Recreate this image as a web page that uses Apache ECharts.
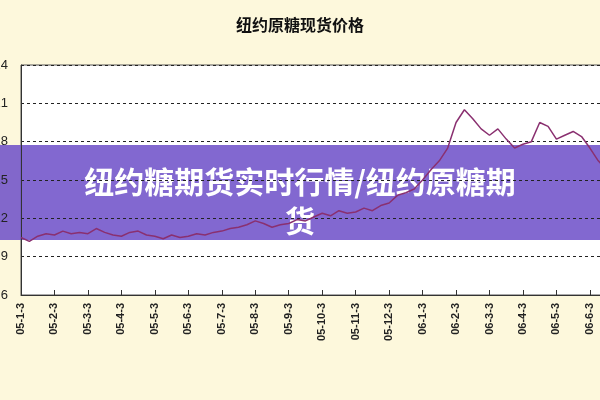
<!DOCTYPE html>
<html><head><meta charset="utf-8">
<script src="https://cdn.jsdelivr.net/npm/echarts@6/dist/echarts.min.js"></script>
<style>body{margin:0;background:#fdf8dc}#c{width:600px;height:400px}</style>
</head><body><div id="c"></div>
<script>
// month tick labels, one per 4 samples
var months = ['05-1-3','05-2-3','05-3-3','05-4-3','05-5-3','05-6-3','05-7-3','05-8-3','05-9-3',
    '05-10-3','05-11-3','05-12-3','06-1-3','06-2-3','06-3-3','06-4-3','06-5-3','06-6-3'];
var prices = [
    10.5,10.2,10.6,10.8, 10.7,11.0,10.8,10.9, 10.8,11.2,10.9,10.7,
    10.6,10.9,11.0,10.7, 10.6,10.4,10.7,10.5, 10.6,10.8,10.7,10.9,
    11.0,11.2,11.3,11.5, 11.8,11.6,11.3,11.5, 11.6,11.9,11.8,12.1,
    12.4,12.2,12.6,12.4, 12.5,12.8,12.6,13.0, 13.2,13.8,14.0,14.3,
    15.0,15.8,16.5,17.5, 19.5,20.5,19.8,19.0, 18.5,19.0,18.2,17.5,
    17.8,18.0,19.5,19.2, 18.2,18.5,18.8,18.4, 17.5,16.5,15.8,15.3
];
var cats = prices.map(function (v, i) { return i % 4 === 0 ? months[i / 4] : ''; });

var chart = echarts.init(document.getElementById('c'));
chart.setOption({
    backgroundColor: '#fdf8dc',
    animation: false,
    title: {
        text: '纽约原糖现货价格', left: 'center', top: 12,
        textStyle: {fontSize: 16, fontWeight: 'bold', color: '#111', fontFamily: 'Noto Sans CJK SC'}
    },
    grid: {left: 21, right: -15, top: 65, bottom: 105, outerBoundsMode: 'none', containLabel: false,
        show: true, backgroundColor: '#fff', borderColor: '#555'},
    xAxis: {
        type: 'category', data: cats, boundaryGap: false,
        axisLine: {lineStyle: {color: '#333'}},
        axisTick: {interval: function (i) { return i % 4 === 0; }, inside: true},
        axisLabel: {interval: function (i) { return i % 4 === 0; }, rotate: 90, color: '#222', fontSize: 11, fontWeight: 'bold'}
    },
    yAxis: {
        type: 'value', min: 6, max: 24, interval: 3,
        axisLine: {show: true, lineStyle: {color: '#333'}},
        axisLabel: {color: '#222', fontSize: 13, margin: 13},
        splitLine: {lineStyle: {color: '#222', type: [3, 3]}}
    },
    series: [{
        type: 'line', data: prices, symbol: 'none',
        lineStyle: {color: '#8a3070', width: 1.5}
    }],
    graphic: [
        {type: 'rect', shape: {x: 0, y: 145, width: 600, height: 95}, style: {fill: 'rgba(108,78,200,0.85)'}},
        {type: 'text', x: 300, y: 182, style: {text: '纽约糖期货实时行情/纽约原糖期', fill: '#fff', font: 'bold 30px "Noto Sans CJK SC"', align: 'center', verticalAlign: 'middle'}},
        {type: 'text', x: 300, y: 221, style: {text: '货', fill: '#fff', font: 'bold 30px "Noto Sans CJK SC"', align: 'center', verticalAlign: 'middle'}}
    ]
});
</script></body></html>
